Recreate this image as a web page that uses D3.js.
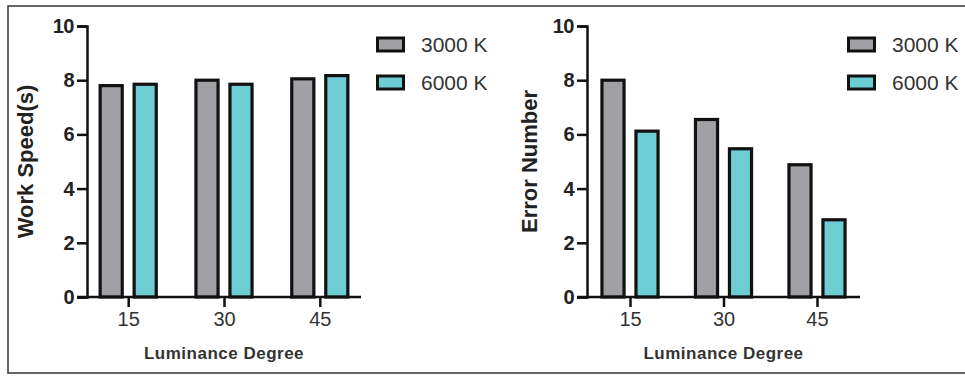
<!DOCTYPE html>
<html lang="en">
<head>
<meta charset="UTF-8">
<script src="https://d3js.org/d3.v7.min.js"></script>
<style>
  body { margin: 0; background: #fff; }
  svg { display: block; font-family: "Liberation Sans", Arial, sans-serif; }
</style>
<title>Luminance Degree</title>
</head>
<body>
<script>
// data
var categories = ["15", "30", "45"];
var seriesNames = ["3000 K", "6000 K"];
var speed3000 = [7.8, 8.0, 8.05];
var speed6000 = [7.85, 7.85, 8.17];
var error3000 = [8.0, 6.55, 4.88];
var error6000 = [6.12, 5.47, 2.85];
var yTicks = [0, 2, 4, 6, 8, 10];
var colors = ["#a1a1a5", "#6ccdd3"];

var W = 965, H = 376;
var svg = d3.select("body").append("svg")
    .attr("width", W)
    .attr("height", H);

// outer frame
svg.append("rect")
    .attr("x", 8).attr("y", 6)
    .attr("width", 980).attr("height", 367)
    .attr("fill", "none")
    .attr("stroke", "#333")
    .attr("stroke-width", 1.5);

function drawPanel(opt) {
  var x = d3.scalePoint()
      .domain(categories)
      .range([opt.left, opt.right])
      .padding(opt.pad);
  var xs = d3.scaleBand()
      .domain(seriesNames)
      .range([-34, 34])
      .paddingInner(0.35)
      .paddingOuter(0.175);
  var y = d3.scaleLinear()
      .domain([0, 10])
      .range([297, 26]);

  var rows = categories.map(function(c, i) {
    return {cat: c, vals: [opt.a[i], opt.b[i]]};
  });

  var g = svg.append("g");

  // bars
  rows.forEach(function(r) {
    g.selectAll(null).data(r.vals).enter()
      .append("rect")
        .attr("x", function(d, i) { return x(r.cat) + xs(seriesNames[i]); })
        .attr("y", function(d) { return y(d); })
        .attr("width", xs.bandwidth())
        .attr("height", function(d) { return y(0) - y(d); })
        .attr("fill", function(d, i) { return colors[i]; })
        .attr("stroke", "#111")
        .attr("stroke-width", 3.2);
  });

  // y axis
  var ya = g.append("g")
      .attr("transform", "translate(" + opt.left + ",0)")
      .call(d3.axisLeft(y).tickValues(yTicks).tickSize(10).tickPadding(3));
  ya.select(".domain").attr("stroke", "#111").attr("stroke-width", 2.5);
  ya.selectAll(".tick line").attr("stroke", "#111").attr("stroke-width", 2.5);
  ya.selectAll("text")
      .attr("fill", "#222")
      .style("font-size", "20px")
      .style("font-weight", "bold")
      .style("letter-spacing", "-0.5px");

  // x axis
  var xa = g.append("g")
      .attr("transform", "translate(0," + y(0) + ")")
      .call(d3.axisBottom(x).tickSize(10).tickPadding(5).tickSizeOuter(0));
  xa.select(".domain").attr("stroke", "#111").attr("stroke-width", 2.5)
      .attr("d", "M" + (opt.left - 10) + ",0H" + opt.right);
  xa.selectAll(".tick line").attr("stroke", "#111").attr("stroke-width", 2.5);
  xa.selectAll("text")
      .attr("fill", "#333")
      .style("font-size", "20px");

  // axis titles
  g.append("text")
      .attr("x", (opt.left + opt.right) / 2)
      .attr("y", 359)
      .attr("text-anchor", "middle")
      .attr("fill", "#333")
      .style("font-size", "17px")
      .style("font-weight", "bold")
      .style("letter-spacing", "0.5px")
      .text("Luminance Degree");

  g.append("text")
      .attr("transform", "translate(" + opt.titleX + "," + (y(0) + y(10)) / 2 + ") rotate(-90)")
      .attr("text-anchor", "middle")
      .attr("fill", "#222")
      .style("font-size", "22px")
      .style("font-weight", "bold")
      .text(opt.title);

  // legend
  var lg = g.selectAll(".legend").data(seriesNames).enter()
    .append("g")
      .attr("class", "legend")
      .attr("transform", function(d, i) { return "translate(" + opt.legendX + "," + (44.5 + i * 38) + ")"; });
  lg.append("rect")
      .attr("x", 1.5).attr("y", -6.5)
      .attr("width", 26).attr("height", 13)
      .attr("fill", function(d, i) { return colors[i]; })
      .attr("stroke", "#111")
      .attr("stroke-width", 3);
  lg.append("text")
      .attr("x", 45)
      .attr("dy", "0.36em")
      .attr("fill", "#333")
      .style("font-size", "21px")
      .text(function(d) { return d; });
}

drawPanel({left: 87, right: 361, pad: 0.43, a: speed3000, b: speed6000,
           title: "Work Speed(s)", titleX: 33, legendX: 376});
drawPanel({left: 587, right: 860, pad: 0.46, a: error3000, b: error6000,
           title: "Error Number", titleX: 537, legendX: 847});
</script>
</body>
</html>
